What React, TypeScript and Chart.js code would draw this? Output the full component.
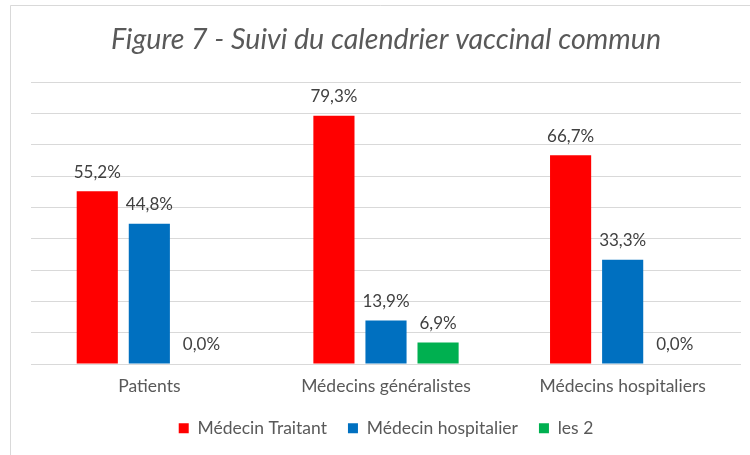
import React, { useEffect, useRef } from "react";
import { Chart, registerables } from "chart.js";

Chart.register(...registerables);

const categories = ["Patients", "Médecins généralistes", "Médecins hospitaliers"];
const seriesNames = ["Médecin Traitant", "Médecin hospitalier", "les 2"];
const medecinTraitant = [55.2, 79.3, 66.7];
const medecinHospitalier = [44.8, 13.9, 33.3];
const les2 = [0.0, 6.9, 0.0];
const seriesColors = ["#FF0000", "#0070C0", "#00B050"];
const titleText = "Figure 7 - Suivi du calendrier vaccinal commun";

const FONT = "Lato, 'Open Sans', sans-serif";

const labelPlugin = {
  id: "barLabels",
  afterDatasetsDraw(chart: any) {
    const ctx = chart.ctx;
    ctx.save();
    ctx.font = `17px ${FONT}`;
    ctx.fillStyle = "#404040";
    ctx.textAlign = "center";
    ctx.textBaseline = "middle";
    chart.data.datasets.forEach((ds: any, i: number) => {
      const meta = chart.getDatasetMeta(i);
      meta.data.forEach((bar: any, j: number) => {
        const v = ds.data[j] as number;
        const txt = v.toFixed(1).replace(".", ",") + "%";
        ctx.fillText(txt, bar.x, bar.y - 19);
      });
    });
    ctx.restore();
  },
};

const framePlugin = {
  id: "frame",
  beforeDraw(chart: any) {
    const ctx = chart.ctx;
    ctx.save();
    ctx.fillStyle = "#ffffff";
    ctx.fillRect(0, 0, chart.width, chart.height);
    ctx.strokeStyle = "#d9d9d9";
    ctx.lineWidth = 1;
    ctx.beginPath();
    ctx.moveTo(10.5, chart.height + 5);
    ctx.lineTo(10.5, 5.5);
    ctx.lineTo(chart.width + 5, 5.5);
    ctx.stroke();
    ctx.restore();
  },
};

export default function App() {
  const ref = useRef<HTMLCanvasElement>(null);
  useEffect(() => {
    if (!ref.current) return;
    const chart = new Chart(ref.current, {
      type: "bar",
      data: {
        labels: categories,
        datasets: [medecinTraitant, medecinHospitalier, les2].map((d, i) => ({
          label: seriesNames[i],
          data: d,
          backgroundColor: seriesColors[i],
          borderWidth: 0,
          categoryPercentage: 0.66,
          barPercentage: 0.79,
        })),
      },
      options: {
        responsive: false,
        animation: false,
        layout: { padding: { left: 31, right: 9, top: 0, bottom: 8 } },
        plugins: {
          title: {
            display: true,
            text: titleText,
            color: "#595959",
            font: { family: FONT, size: 28.6, style: "italic", weight: "normal" },
            padding: { top: 23, bottom: 25 },
          },
          legend: {
            position: "bottom",
            labels: {
              boxWidth: 10,
              boxHeight: 10,
              padding: 21,
              color: "#595959",
              font: { family: FONT, size: 17.5 },
            },
          },
          tooltip: { enabled: false },
        },
        scales: {
          x: {
            grid: { display: false, drawTicks: false },
            border: { display: false },
            ticks: { color: "#595959", font: { family: FONT, size: 17.5 }, padding: 12 },
            afterFit: (scale: any) => {
              scale.height = 34.5;
            },
          },
          y: {
            min: 0,
            max: 90,
            ticks: { display: false, stepSize: 10 },
            grid: { color: "#d9d9d9", lineWidth: 1, drawTicks: false },
            border: { display: false },
          },
        },
      },
      plugins: [framePlugin, labelPlugin],
    });
    return () => chart.destroy();
  }, []);
  return (
    <div style={{ position: "fixed", left: 0, top: 0, width: 750, height: 455 }}>
      <canvas ref={ref} width={750} height={455} style={{ display: "block" }} />
    </div>
  );
}
